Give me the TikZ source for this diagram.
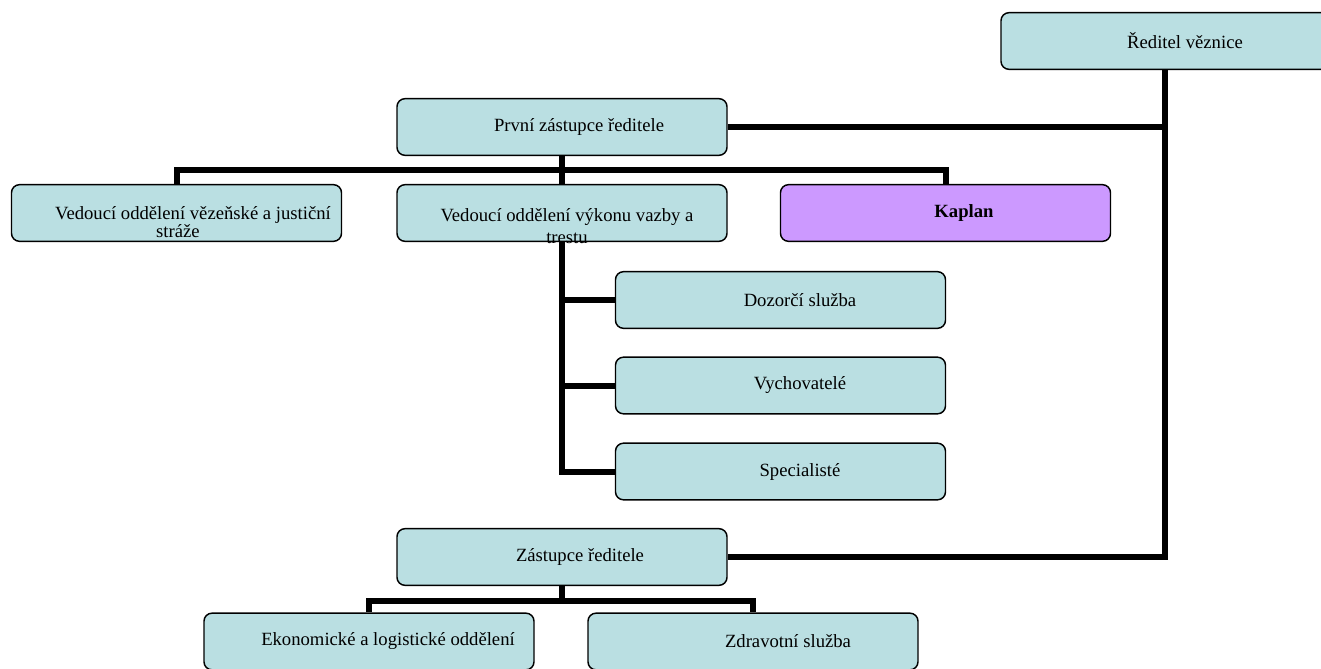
\documentclass[tikz,border=0pt]{standalone}
\usepackage{fontspec}
\setmainfont{Liberation Serif}
\usepackage{tikz}
\usetikzlibrary{positioning}
\usetikzlibrary{calc}
\definecolor{unitfill}{RGB}{186,223,226}
\definecolor{kaplanfill}{RGB}{204,153,255}
\tikzstyle{unit box}=[rectangle, draw, rounded corners=6pt, line width=1.1pt, fill=unitfill, minimum width=247.5pt, minimum height=42.5pt]
\tikzstyle{kaplan box}=[unit box, fill=kaplanfill]
\tikzstyle{unit text}=[inner sep=0pt, font=\fontsize{14pt}{16pt}\selectfont]
\tikzstyle{link}=[line width=4.5pt]

\begin{document}
\begin{tikzpicture}[x=0.75pt, y=-0.75pt]
    \useasboundingbox (0,0) rectangle (1321,668);
    \clip (0,0) rectangle (1321,668);

    \node [unit box, minimum width=300pt] (reditel) at (1201,41) {};
    \node [unit box] (prvni) at (562,127) {};
    \node [unit box] (vezen) at (176.5,213) {};
    \node [unit box] (vykon) at (562,213) {};
    \node [kaplan box] (kaplan) at (945.5,213) {};
    \node [unit box] (dozor) at (780.5,300) {};
    \node [unit box] (vychov) at (780.5,385.5) {};
    \node [unit box] (special) at (780.5,471.5) {};
    \node [unit box] (zastupce) at (562,557) {};
    \node [unit box] (ekonom) at (369,641.5) {};
    \node [unit box] (zdrav) at (753,641.5) {};

    \coordinate (reditel-foot) at ($(reditel.south west)+(165,0)$);
    \coordinate (bus-top) at (562,170);
    \coordinate (bus-bottom) at (562,601);

    \draw [link] (reditel-foot) |- (zastupce.east);
    \draw [link] (prvni.east) -- (prvni.east -| reditel-foot);

    \draw [link] (prvni.south) -- (vykon.north);
    \draw [link] (vezen.north) |- (bus-top) -| (kaplan.north);

    \draw [link] (vykon.south) |- (special.west);
    \foreach \i in {dozor,vychov}
    \draw [link] (\i.west) -- (\i.west -| vykon.south);

    \draw [link] (zastupce.south) -- (bus-bottom);
    \draw [link] (ekonom.north) |- (bus-bottom) -| (zdrav.north);

    \node [unit text] (reditel-t) at (1185,41) {Ředitel věznice};
    \node [unit text] (prvni-t) at (579,127) {První zástupce ředitele};
    \node [unit text, align=center, font=\fontsize{14pt}{13.9pt}\selectfont] (vezen-t) at (178,222) {\hspace*{22.5pt}Vedoucí oddělení vězeňské a justiční\\stráže};
    \node [unit text, align=center, font=\fontsize{14pt}{17pt}\selectfont] (vykon-t) at (567,226) {Vedoucí oddělení výkonu vazby a\\trestu};
    \node [unit text] (kaplan-t) at (964,213) {\textbf{Kaplan}};
    \node [unit text] (dozor-t) at (800,300) {Dozorčí služba};
    \node [unit text] (vychov-t) at (800,385.5) {Vychovatelé};
    \node [unit text] (special-t) at (800,471.5) {Specialisté};
    \node [unit text] (zastupce-t) at (580,557) {Zástupce ředitele};
    \node [unit text] (ekonom-t) at (388,641.5) {Ekonomické a logistické oddělení};
    \node [unit text] (zdrav-t) at (788,641.5) {Zdravotní služba};
\end{tikzpicture}
\end{document}
